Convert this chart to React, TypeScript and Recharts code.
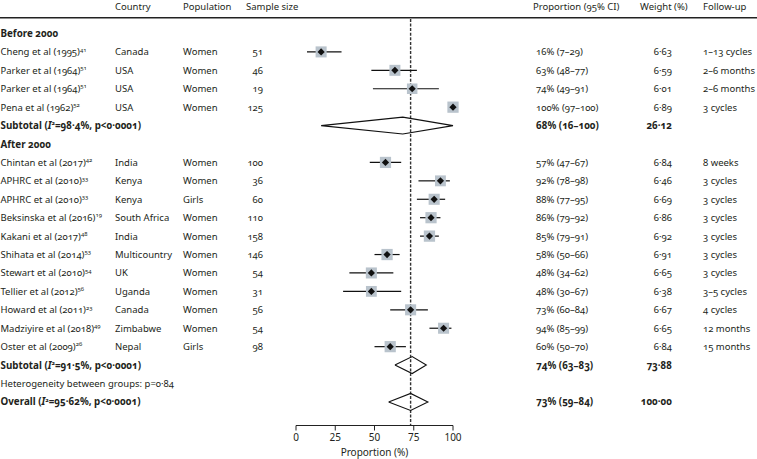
import React from 'react';
import { ScatterChart, Scatter, XAxis, YAxis, ErrorBar, ReferenceLine } from 'recharts';

const FONT = '"Noto Sans", "Open Sans", sans-serif';
const TEXT = '#231f20';
const SQUARE = '#b9c3cc';
const FS = 9.5;
const FS_BOLD = 9.8;

// ---- data ----
const studyNames = [
  'Cheng et al (1995)', 'Parker et al (1964)', 'Parker et al (1964)', 'Pena et al (1962)',
  'Chintan et al (2017)', 'APHRC et al (2010)', 'APHRC et al (2010)', 'Beksinska et al (2016)',
  'Kakani et al (2017)', 'Shihata et al (2014)', 'Stewart et al (2010)', 'Tellier et al (2012)',
  'Howard et al (2011)', 'Madziyire et al (2018)', 'Oster et al (2009)',
];
const studyRefs = ['41', '51', '51', '52', '42', '33', '33', '19', '48', '53', '54', '56', '23', '49', '26'];
const countries = [
  'Canada', 'USA', 'USA', 'USA', 'India', 'Kenya', 'Kenya', 'South Africa', 'India',
  'Multicountry', 'UK', 'Uganda', 'Canada', 'Zimbabwe', 'Nepal',
];
const populations = [
  'Women', 'Women', 'Women', 'Women', 'Women', 'Women', 'Girls', 'Women', 'Women',
  'Women', 'Women', 'Women', 'Women', 'Women', 'Girls',
];
const sampleSizes = [51, 46, 19, 125, 100, 36, 60, 110, 158, 146, 54, 31, 56, 54, 98];
const estimates = [16, 63, 74, 100, 57, 92, 88, 86, 85, 58, 48, 48, 73, 94, 60];
const lowerCI = [7, 48, 49, 97, 47, 78, 77, 79, 79, 50, 34, 30, 60, 85, 50];
const upperCI = [29, 77, 91, 100, 67, 98, 95, 92, 91, 66, 62, 67, 84, 99, 70];
const weights = [6.63, 6.59, 6.01, 6.89, 6.84, 6.46, 6.69, 6.86, 6.92, 6.91, 6.65, 6.38, 6.67, 6.65, 6.84];
const followUps = [
  '1–13 cycles', '2–6 months', '2–6 months', '3 cycles', '8 weeks', '3 cycles', '3 cycles',
  '3 cycles', '3 cycles', '3 cycles', '3 cycles', '3–5 cycles', '4 cycles', '12 months', '15 months',
];
const studyRows = [1, 2, 3, 4, 7, 8, 9, 10, 11, 12, 13, 14, 15, 16, 17];

const groupLabels = ['Before 2000', 'After 2000'];
const groupRows = [0, 6];

const pooledNames = ['Subtotal', 'Subtotal', 'Overall'];
const pooledI2 = ['98·4%', '91·5%', '95·62%'];
const pooledP = ['p<0·0001', 'p<0·0001', 'p<0·0001'];
const pooledEst = [68, 74, 73];
const pooledLower = [16, 63, 59];
const pooledUpper = [100, 83, 84];
const pooledWeights = [26.12, 73.88, 100.0];
const pooledRows = [5, 18, 20];

const hetText = 'Heterogeneity between groups: p=0·84';
const hetRow = 19;

const headerLabels = ['Country', 'Population', 'Sample size', 'Proportion (95% CI)', 'Weight (%)', 'Follow-up'];
const headerRow = -1.48;

const xTicks = [0, 25, 50, 75, 100];
const overallValue = 73;

// ---- helpers ----
const fmt = (n: number) => n.toFixed(2).replace('.', '·');

const T = ({ x, y, anchor = 'start', bold = false, children }: any) => (
  <text
    x={x}
    y={y + 3.5}
    textAnchor={anchor}
    fontFamily={FONT}
    fontSize={bold ? FS_BOLD : FS}
    fontWeight={bold ? 700 : 400}
    fill={TEXT}
    style={{ fontVariantNumeric: 'oldstyle-nums' }}
  >
    {children}
  </text>
);

const COL = { name: 0.5, country: 115, pop: 183, n: 263, prop: 536, w: 672, fu: 703 };
const HCOL = [115, 183, 246, 533, 640, 703];

const tableData: any[] = [
  { x: 0, y: headerRow, kind: 'header' },
  ...groupLabels.map((g, i) => ({ x: 0, y: groupRows[i], kind: 'group', label: g })),
  ...studyNames.map((s, i) => ({ x: 0, y: studyRows[i], kind: 'study', i })),
  ...pooledNames.map((s, i) => ({ x: 0, y: pooledRows[i], kind: 'pooled', i })),
  { x: 0, y: hetRow, kind: 'het' },
];

const TableRow = (props: any) => {
  const { cy, payload } = props;
  const p = payload;
  if (p.kind === 'header') {
    return (
      <g>
        {headerLabels.map((h, k) => (
          <T key={k} x={HCOL[k]} y={cy}>{h}</T>
        ))}
        <line x1={0} x2={757} y1={cy + 11.5} y2={cy + 11.5} stroke="#222" strokeWidth={1.4} />
      </g>
    );
  }
  if (p.kind === 'group') return <T x={COL.name} y={cy} bold>{p.label}</T>;
  if (p.kind === 'het') return <T x={COL.name} y={cy}>{hetText}</T>;
  if (p.kind === 'study') {
    const i = p.i;
    return (
      <g>
        <T x={COL.name} y={cy}>
          {studyNames[i]}
          <tspan fontSize={6} dy={-3.8}>{studyRefs[i]}</tspan>
        </T>
        <T x={COL.country} y={cy}>{countries[i]}</T>
        <T x={COL.pop} y={cy}>{populations[i]}</T>
        <T x={COL.n} y={cy} anchor="end">{sampleSizes[i]}</T>
        <T x={COL.prop} y={cy}>{`${estimates[i]}% (${lowerCI[i]}–${upperCI[i]})`}</T>
        <T x={COL.w} y={cy} anchor="end">{fmt(weights[i])}</T>
        <T x={COL.fu} y={cy}>{followUps[i]}</T>
      </g>
    );
  }
  const i = p.i;
  return (
    <g>
      <T x={COL.name} y={cy} bold>
        {pooledNames[i]} (<tspan fontStyle="italic">I</tspan>
        <tspan fontSize={6} dy={-3.8}>2</tspan>
        <tspan dy={3.8}>{`=${pooledI2[i]}, ${pooledP[i]})`}</tspan>
      </T>
      <T x={COL.prop} y={cy} bold>{`${pooledEst[i]}% (${pooledLower[i]}–${pooledUpper[i]})`}</T>
      <T x={COL.w} y={cy} anchor="end" bold>{fmt(pooledWeights[i])}</T>
    </g>
  );
};

const studyData = studyNames.map((s, i) => ({
  x: estimates[i],
  y: studyRows[i],
  w: weights[i],
  err: [estimates[i] - lowerCI[i], upperCI[i] - estimates[i]],
}));

const StudyMark = (props: any) => {
  const { cx, cy, payload } = props;
  const s = 11 * Math.sqrt(payload.w / 6.6);
  const d = 3.6;
  return (
    <g>
      <rect x={cx - s / 2} y={cy - s / 2} width={s} height={s} fill={SQUARE} />
      <polygon
        points={`${cx - d},${cy} ${cx},${cy - d} ${cx + d},${cy} ${cx},${cy + d}`}
        fill="#111"
      />
    </g>
  );
};

const diamondHalf = 0.46;
const diamonds = pooledEst.map((e, i) => [
  { x: pooledLower[i], y: pooledRows[i] },
  { x: e, y: pooledRows[i] - diamondHalf },
  { x: pooledUpper[i], y: pooledRows[i] },
  { x: e, y: pooledRows[i] + diamondHalf },
  { x: pooledLower[i], y: pooledRows[i] },
]);

const Empty = () => <g />;

export default function App() {
  return (
    <div style={{ position: 'absolute', left: 0, top: 0, width: 757, height: 459, background: '#fff' }}>
      <ScatterChart width={757} height={459} margin={{ top: 4, right: 304, bottom: 0, left: 296 }}>
        <XAxis
          type="number"
          dataKey="x"
          domain={[0, 100]}
          ticks={xTicks}
          height={33.5}
          tickSize={5}
          tickMargin={3}
          axisLine={{ stroke: '#222' }}
          tickLine={{ stroke: '#222' }}
          tick={{ fill: TEXT, fontSize: 10, fontFamily: FONT }}
          label={{ value: 'Proportion (%)', position: 'insideBottom', offset: 3, fill: TEXT, fontSize: 10, fontFamily: FONT }}
        />
        <YAxis type="number" dataKey="y" domain={[-1.6, 21.28]} reversed hide />
        <ReferenceLine
          segment={[{ x: overallValue, y: -0.79 }, { x: overallValue, y: 21.28 }]}
          stroke="#333"
          strokeWidth={1.4}
          strokeDasharray="3 1.6"
        />
        <Scatter data={tableData} shape={TableRow} isAnimationActive={false} />
        {diamonds.map((d, i) => (
          <Scatter
            key={i}
            data={d}
            line={{ stroke: '#111', strokeWidth: 1.1 }}
            lineType="joint"
            shape={Empty}
            isAnimationActive={false}
          />
        ))}
        <Scatter data={studyData} shape={StudyMark} isAnimationActive={false}>
          <ErrorBar dataKey="err" direction="x" width={0} stroke="#111" strokeWidth={1.2} isAnimationActive={false} />
        </Scatter>
      </ScatterChart>
    </div>
  );
}
